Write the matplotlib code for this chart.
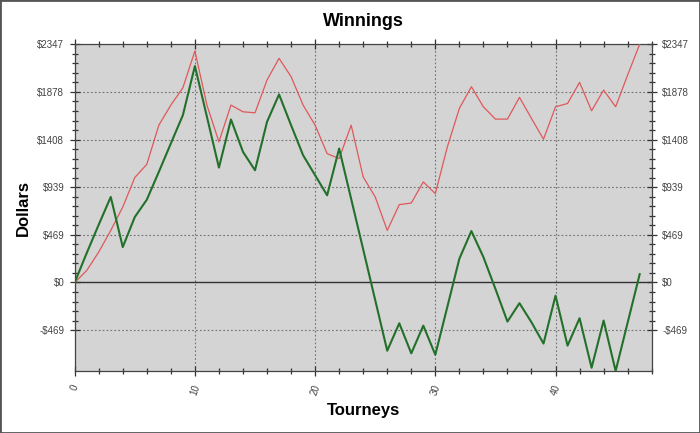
import numpy as np
import matplotlib
matplotlib.use("Agg")
import matplotlib.pyplot as plt
from matplotlib.patches import Rectangle
from matplotlib.ticker import MultipleLocator, FixedLocator

plt.rcParams['font.family'] = ['Liberation Sans', 'DejaVu Sans']

tourneys = np.arange(48)
green = [0, 290, 570, 843, 349, 645, 816, 1090, 1370, 1649,
         2133, 1633, 1132, 1606, 1287, 1106, 1583, 1853, 1550, 1254,
         1057, 859, 1320, 823, 326, -174, -672, -402, -698, -425,
         -712, -240, 234, 507, 250, -63, -385, -204, -392, -602,
         -130, -622, -352, -840, -375, -872, -395, 82]
red = [0, 118, 300, 513, 744, 1034, 1165, 1550, 1748, 1919,
       2281, 1748, 1386, 1748, 1682, 1672, 1995, 2209, 2028, 1748,
       1550, 1270, 1221, 1550, 1040, 843, 513, 767, 783, 991,
       876, 1336, 1715, 1929, 1731, 1610, 1610, 1824, 1616, 1412,
       1731, 1764, 1972, 1692, 1896, 1731, 2045, 2347]

ymax = max(red)
ymin = min(green)
step = ymax / 5
yticks = [step * k for k in range(-1, 6)]
ylabels = ["-$469", "$0", "$469", "$939", "$1408", "$1878", "$2347"]

fig = plt.figure(figsize=(7, 4.33), dpi=100)
ax = fig.add_axes([0.1067, 0.1432, 0.8243, 0.7545])
ax.set_facecolor('#d4d4d4')

ax.plot(tourneys, red, color='#e0585a', lw=0.9, zorder=3)
ax.plot(tourneys, green, color='#23702a', lw=1.5, zorder=4)
ax.axhline(0, color='#333333', lw=1.0, zorder=2)

ax.set_xlim(0, 48)
ax.set_ylim(ymin, ymax)

ax.xaxis.set_major_locator(MultipleLocator(10))
ax.xaxis.set_minor_locator(MultipleLocator(2))
ax.yaxis.set_major_locator(FixedLocator(yticks))
ax.yaxis.set_minor_locator(FixedLocator([step / 5 * k for k in range(-5, 26)]))
ax.set_yticklabels(ylabels)

ax.grid(True, which='major', color='#707070', linestyle=(0, (1.5, 2)), lw=0.8, zorder=1)
ax.set_axisbelow(True)

ax.tick_params(which='both', direction='inout', top=True, right=True,
               colors='#333333', labelcolor='#444444', labelsize=7)
ax.tick_params(which='major', length=7, width=0.9)
ax.tick_params(which='minor', length=5, width=0.9)
ax.tick_params(axis='y', labelright=True, pad=4)
ax.tick_params(axis='x', pad=5)
for lbl in ax.get_xticklabels():
    lbl.set_rotation(70)
    lbl.set_ha('center')
for sp in ax.spines.values():
    sp.set_color('#444444')
    sp.set_linewidth(0.9)

ax.set_title("Winnings", fontsize=13, fontweight='bold', pad=13)
ax.set_xlabel("Tourneys", fontsize=12, fontweight='bold', labelpad=5)
ax.set_ylabel("Dollars", fontsize=12, fontweight='bold', labelpad=5)

fig.patches.append(Rectangle((0, 0), 1, 1, transform=fig.transFigure,
                             fill=False, edgecolor='#555555', lw=2))

fig.savefig("out.png", dpi=100)
